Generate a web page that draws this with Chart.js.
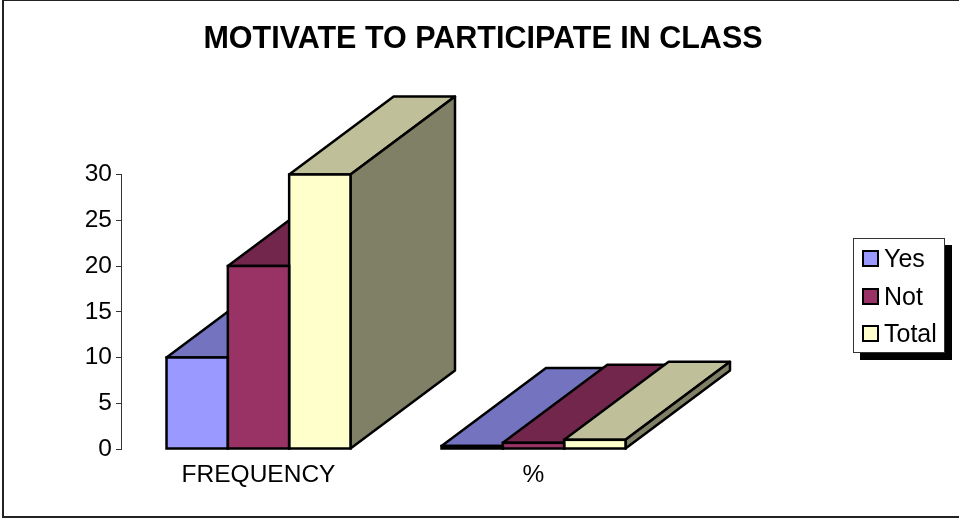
<!DOCTYPE html>
<html>
<head>
<meta charset="utf-8">
<title>Motivate to participate in class</title>
<script src="https://cdn.jsdelivr.net/npm/chart.js@4"></script>
<style>
  html, body { margin: 0; padding: 0; background: #fff; }
  #wrap { position: relative; width: 959px; height: 518px; overflow: hidden; }
  #frame { position: absolute; left: 2px; top: -1px; width: 961px; height: 519px; border: 2px solid #222; box-sizing: border-box; }
  canvas { position: absolute; left: 0; top: 0; }
  #legend { position: absolute; left: 853px; top: 238px; width: 92px; height: 115px; box-sizing: border-box;
            background: #fff; border: 1px solid #333; box-shadow: 7px 7px 0 #000;
            font: 25px "Liberation Sans", Arial, sans-serif; color: #000; }
  .row { position: absolute; left: 8px; height: 28px; line-height: 28px; white-space: nowrap; }
  .swatch { position: absolute; left: 0; top: 6px; width: 17px; height: 17px; box-sizing: border-box; border: 2.5px solid #000; }
  .row span { margin-left: 22px; }
</style>
</head>
<body>
<div id="wrap">
  <div id="frame"></div>
  <canvas id="chart" width="959" height="518"></canvas>
  <div id="legend"></div>
</div>
<script>
// chart data
const chartTitle = 'MOTIVATE TO PARTICIPATE IN CLASS';
const categories = ['FREQUENCY', '%'];
const seriesNames = ['Yes', 'Not', 'Total'];
const yesValues = [10, 0.33];
const notValues = [20, 0.67];
const totalValues = [30, 1];

// front, top and side colours per series
const frontColors = ['#9999FF', '#993366', '#FFFFCC'];
const topColors = ['#7373BF', '#73264C', '#BFBF99'];
const sideColors = ['#4D4D80', '#4D1A33', '#808066'];

// how far the box goes back
const depthX = 104.5;
const depthY = 78;
const outline = 2.5;

function poly(ctx, pts, fill) {
  ctx.beginPath();
  ctx.moveTo(pts[0][0], pts[0][1]);
  pts.slice(1).forEach((p) => ctx.lineTo(p[0], p[1]));
  ctx.closePath();
  ctx.fillStyle = fill;
  ctx.fill();
  ctx.stroke();
}

// corners of a bar element
function barBox(bar) {
  const p = bar.getProps(['x', 'y', 'base', 'width'], true);
  return { l: p.x - p.width / 2, r: p.x + p.width / 2, t: p.y, b: p.base };
}

const bars3d = {
  id: 'bars3d',
  // the title is centred on the whole frame, not on the plot
  afterLayout(chart) {
    chart.titleBlock.left = 7;
    chart.titleBlock.right = 959;
  },
  // tops and sides go behind the fronts
  beforeDatasetsDraw(chart) {
    const ctx = chart.ctx;
    ctx.save();
    ctx.strokeStyle = '#000';
    ctx.lineWidth = outline;
    ctx.lineJoin = 'round';
    chart.data.datasets.forEach((ds, i) => {
      chart.getDatasetMeta(i).data.forEach((bar) => {
        const b = barBox(bar);
        poly(ctx, [[b.l, b.t], [b.r, b.t], [b.r + depthX, b.t - depthY], [b.l + depthX, b.t - depthY]], topColors[i]);
        poly(ctx, [[b.r, b.t], [b.r + depthX, b.t - depthY], [b.r + depthX, b.b - depthY], [b.r, b.b]], sideColors[i]);
      });
    });
    ctx.restore();
  },
  // outline centred on the bar edge, neighbours share one line
  afterDatasetsDraw(chart) {
    const ctx = chart.ctx;
    ctx.save();
    ctx.strokeStyle = '#000';
    ctx.lineWidth = outline;
    chart.data.datasets.forEach((ds, i) => {
      chart.getDatasetMeta(i).data.forEach((bar) => {
        const b = barBox(bar);
        ctx.strokeRect(b.l, b.t, b.r - b.l, b.b - b.t);
      });
    });
    ctx.restore();
  }
};

const allValues = [yesValues, notValues, totalValues];

new Chart(document.getElementById('chart'), {
  type: 'bar',
  data: {
    labels: categories,
    datasets: seriesNames.map((name, i) => ({
      label: name,
      data: allValues[i],
      backgroundColor: frontColors[i],
      borderWidth: 0,
      clip: false,
      barPercentage: 1,
      categoryPercentage: 0.669
    }))
  },
  options: {
    responsive: false,
    animation: false,
    layout: { padding: { left: 0, right: 288, top: 0, bottom: 0 } },
    plugins: {
      legend: { display: false },
      tooltip: { enabled: false },
      title: {
        display: true,
        text: chartTitle,
        color: '#000',
        font: { family: '"Liberation Sans", Arial, sans-serif', size: 30.5, weight: 'bold', lineHeight: '32px' },
        padding: { top: 23.5, bottom: 119 }
      }
    },
    scales: {
      x: {
        afterFit(scale) { scale.height = 69; },
        border: { display: false },
        grid: { display: false },
        ticks: { color: '#000', padding: 4, maxRotation: 0, font: { family: '"Liberation Sans", Arial, sans-serif', size: 24.5 } }
      },
      y: {
        min: 0,
        max: 30,
        afterFit(scale) { scale.width = 121; },
        border: { display: true, color: '#333', width: 1 },
        grid: { drawOnChartArea: false, drawTicks: true, tickLength: 5, color: '#333' },
        ticks: { color: '#000', stepSize: 5, padding: 4, font: { family: '"Liberation Sans", Arial, sans-serif', size: 24.5 } }
      }
    }
  },
  plugins: [bars3d]
});

// legend box with the drop shadow
const legend = document.getElementById('legend');
seriesNames.forEach((name, i) => {
  const row = document.createElement('div');
  row.className = 'row';
  row.style.top = (5 + i * 37.5) + 'px';
  row.innerHTML = '<div class="swatch" style="background:' + frontColors[i] + '"></div><span>' + name + '</span>';
  legend.appendChild(row);
});
</script>
</body>
</html>
